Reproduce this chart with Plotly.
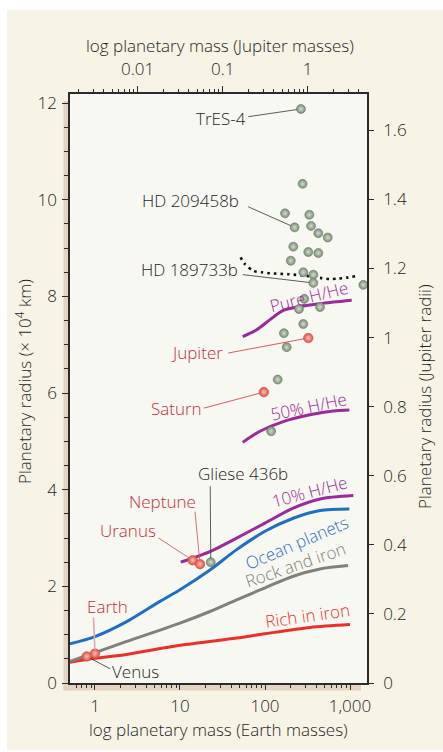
import numpy as np
import plotly.graph_objects as go

# ---------------- constants ----------------
MJ_IN_ME = 317.83        # 1 Jupiter mass in Earth masses
RJ_IN_1E4KM = 7.1492     # 1 Jupiter radius in 10^4 km

# ---------------- data ----------------
# transiting exoplanets (green spheres): mass (Earth masses), radius (10^4 km)
exo_mass = [265, 277, 172, 332, 223, 348, 424, 547, 215, 323, 424, 201, 282, 370,
            370, 1435, 290, 251, 444, 282, 167, 180, 141, 118, 23.0]
exo_radius = [11.88, 10.33, 9.72, 9.69, 9.43, 9.46, 9.31, 9.22, 9.03, 8.92, 8.90, 8.74,
              8.50, 8.45, 8.28, 8.24, 7.95, 7.74, 7.78, 7.43, 7.24, 6.95, 6.28, 5.21, 2.50]
exo_names = ["TrES-4", "", "", "", "HD 209458b", "", "", "", "", "", "", "", "", "",
             "HD 189733b", "", "", "", "", "", "", "", "", "", "Gliese 436b"]

# solar-system planets (red spheres)
sol_names = ["Jupiter", "Saturn", "Uranus", "Neptune", "Earth", "Venus"]
sol_mass = [323, 97, 14.1, 17.2, 1.0, 0.80]
sol_radius = [7.14, 6.02, 2.54, 2.46, 0.61, 0.55]

# model curves
iron_mass = [0.508, 1, 2.36, 10, 46.4, 100, 339, 1000]
iron_r = [0.43, 0.51, 0.59, 0.78, 0.93, 1.02, 1.15, 1.21]

rock_mass = [0.508, 1, 2.36, 10, 22.5, 46.4, 100, 215, 444, 950]
rock_r = [0.45, 0.63, 0.86, 1.24, 1.48, 1.72, 1.97, 2.21, 2.36, 2.43]

ocean_mass = [0.508, 1, 2.36, 5.82, 10, 22.5, 46.4, 100, 215, 444, 982]
ocean_r = [0.81, 0.96, 1.27, 1.69, 1.93, 2.34, 2.76, 3.14, 3.41, 3.57, 3.60]

hhe10_mass = [10.2, 22.5, 46.4, 100, 215, 444, 1094]
hhe10_r = [2.50, 2.72, 3.00, 3.31, 3.62, 3.81, 3.88]

hhe50_mass = [54.7, 87.4, 164, 338, 636, 982]
hhe50_r = [4.98, 5.21, 5.41, 5.55, 5.63, 5.65]

pure_mass = [54.7, 79.8, 114.5, 164, 258, 444, 1047]
pure_r = [7.17, 7.31, 7.52, 7.71, 7.79, 7.85, 7.92]

dot_mass = [51.6, 58.0, 72.9, 91.3, 114, 188, 295, 463, 580, 727, 915, 1170]
dot_r = [8.81, 8.67, 8.53, 8.50, 8.48, 8.46, 8.43, 8.38, 8.36, 8.37, 8.39, 8.42]

# tick labels
x_ticks = [1, 10, 100, 1000]
x_ticktext = ["1", "10", "100", "1,000"]
x2_ticks = [0.01, 0.1, 1]
x2_ticktext = ["0.01", "0.1", "1"]
y_ticks = [0, 2, 4, 6, 8, 10, 12]
y2_ticks = [0, 0.2, 0.4, 0.6, 0.8, 1.0, 1.2, 1.4, 1.6]
y2_ticktext = ["0", "0.2", "0.4", "0.6", "0.8", "1", "1.2", "1.4", "1.6"]

# ---------------- styling ----------------
FONT = "Open Sans"
WEIGHT = 300
DARK = "#1f1f1f"
LABEL_RED = "#bf2f35"
PURPLE = "#9b2a9c"
BLUE = "#1f6fc1"
GRAY = "#80817a"
RED = "#e8312b"
CREAM = "#f7f3e5"
PLOTBG = "#f8f8f2"
TAN = "#e4d4c0"
LBL_SIZE = 17
TICK_SIZE = 17
TITLE_SIZE = 17

XR = [-0.294, 3.2]
YR = [0, 12.19]
L, R_, T, B = 70, 76, 94, 69
W, H = 443, 752
PW, PH = W - L - R_, H - T - B
PPD = PW / (XR[1] - XR[0])     # pixels per decade
PPU = PH / (YR[1] - YR[0])     # pixels per 10^4 km


def px2paper(px, py):
    return (px - L) / PW, (H - B - py) / PH


def fnt(size, color):
    return dict(family=FONT, size=size, color=color, weight=WEIGHT)


fig = go.Figure()

# ---- curves ----
def curve(m, r, color, width=3, dash=None):
    fig.add_trace(go.Scatter(x=m, y=r, mode="lines", line=dict(color=color, width=width,
                             shape="spline", smoothing=0.8, dash=dash),
                             hoverinfo="skip", showlegend=False))

curve(iron_mass, iron_r, RED)
curve(rock_mass, rock_r, GRAY)
curve(ocean_mass, ocean_r, BLUE)
curve(hhe10_mass, hhe10_r, PURPLE)
curve(hhe50_mass, hhe50_r, PURPLE)
curve(pure_mass, pure_r, PURPLE)
curve(dot_mass, dot_r, "#111111", width=2.6, dash="2.6px,4px")

# ---- background shapes ----
cx0, cy0 = px2paper(7, 10)
cx1, cy1 = px2paper(450, 750)
shapes = [
    dict(type="rect", xref="paper", yref="paper", x0=cx0, x1=cx1, y0=cy1, y1=cy0,
         fillcolor=CREAM, line=dict(width=0), layer="below"),
    dict(type="rect", xref="paper", yref="paper", x0=0, x1=1, y0=0, y1=1,
         fillcolor=PLOTBG, line=dict(width=0), layer="below"),
]
tx0, _ = px2paper(63.5, 0)
_, ty0 = px2paper(0, 690.5)
_, ty1 = px2paper(0, 101)
bx1, _ = px2paper(361, 0)
shapes.append(dict(type="rect", xref="paper", yref="paper", x0=tx0, x1=0, y0=ty0, y1=ty1,
                   fillcolor=TAN, line=dict(width=0), layer="below"))
shapes.append(dict(type="rect", xref="paper", yref="paper", x0=tx0, x1=bx1, y0=ty0, y1=0,
                   fillcolor=TAN, line=dict(width=0), layer="below"))

# ---- labels with leader lines ----
# name -> (tail dx, tail dy, text dx, text dy, text color, leader color, leader width) (screen px)
label_layout = {
    "TrES-4":      (-52.7, 7.7, -80, 9.3, DARK, "#4a4a4a", 0.9),
    "HD 209458b":  (-46.4, -20.6, -103.7, -27.3, DARK, "#4a4a4a", 0.9),
    "HD 189733b":  (-70.6, -8.3, -124.3, -13.3, DARK, "#4a4a4a", 0.9),
    "Gliese 436b": (-0.5, -76, 31.8, -89, DARK, "#4a4a4a", 0.9),
    "Jupiter":     (-80, 15, -110.8, 14.2, LABEL_RED, "#d24c4c", 0.9),
    "Saturn":      (-60, 16, -87.7, 16.2, LABEL_RED, "#d24c4c", 0.9),
    "Neptune":     (-5, -52.6, -37.8, -62.6, LABEL_RED, "#d46060", 0.9),
    "Uranus":      (-34.4, -22.4, -64.9, -29.9, LABEL_RED, "#d46060", 0.9),
    "Earth":       (-1.5, -36, 13, -47.3, LABEL_RED, "#e9a6a6", 1.6),
    "Venus":       (23.3, 12.3, 49, 15, DARK, "#4a4a4a", 0.9),
}

points = {}
for n, m, r in zip(exo_names, exo_mass, exo_radius):
    if n:
        points[n] = (m, r)
for n, m, r in zip(sol_names, sol_mass, sol_radius):
    points[n] = (m, r)


def shift(m, r, dx, dy):
    """move a data point by a screen offset (px, y down)"""
    return m * 10 ** (dx / PPD), r - dy / PPU


annotations = []
for name, (tdx, tdy, xdx, xdy, tcol, lcol, lw) in label_layout.items():
    m, r = points[name]
    d = np.hypot(tdx, tdy)
    hx, hy = shift(m, r, tdx / d * 4.0, tdy / d * 4.0)
    tx, ty = shift(m, r, tdx, tdy)
    shapes.append(dict(type="line", xref="x", yref="y", x0=hx, y0=hy, x1=tx, y1=ty,
                       line=dict(color=lcol, width=lw), layer="above"))
    annotations.append(dict(x=np.log10(m), y=r, xref="x", yref="y", text=name, showarrow=False,
                            xshift=xdx, yshift=-xdy, xanchor="center", yanchor="middle",
                            font=fnt(LBL_SIZE, tcol)))

# ---- curve labels ----
curve_labels = [
    ("Pure H/He", 2.521, 7.99, -14, PURPLE),
    ("50% H/He", 2.509, 5.73, -12, PURPLE),
    ("10% H/He", 2.529, 3.96, -15, PURPLE),
    ("Ocean planets", 2.38, 2.90, -23, BLUE),
    ("Rock and iron", 2.361, 2.45, -19, GRAY),
    ("Rich in iron", 2.498, 1.39, -8, RED),
]
for txt, lx, ly, ang, col in curve_labels:
    annotations.append(dict(x=lx, y=ly, xref="x", yref="y", text=txt, showarrow=False,
                            textangle=ang, xanchor="center", yanchor="middle",
                            font=fnt(LBL_SIZE, col)))

# ---- spheres ----
fig.add_trace(go.Scatter(
    x=exo_mass, y=exo_radius, mode="markers", cliponaxis=False,
    marker=dict(size=9, color="#7a8d74", line=dict(color="#6d7f68", width=0.6),
                gradient=dict(type="radial", color="#d3dccf")),
    hoverinfo="skip", showlegend=False))
fig.add_trace(go.Scatter(
    x=sol_mass, y=sol_radius, mode="markers", cliponaxis=False,
    marker=dict(size=9.5, color="#df4f45", line=dict(color="#cf4a42", width=0.6),
                gradient=dict(type="radial", color="#f9c2b6")),
    hoverinfo="skip", showlegend=False))

# ---- axis titles ----
def title(text, px, py, angle=0):
    xp, yp = px2paper(px, py)
    annotations.append(dict(x=xp, y=yp, xref="paper", yref="paper", text=text, showarrow=False,
                            textangle=angle, xanchor="center", yanchor="middle",
                            font=fnt(TITLE_SIZE, DARK)))

title("log planetary mass (Jupiter masses)", 220, 45.7)
title("log planetary mass (Earth masses)", 218, 729.3)
title("Planetary radius (× 10<sup>4</sup> km)", 24, 382, -90)
title("Planetary radius (Jupiter radii)", 424, 396, -90)

# ---- axes ----
x_minor = [k * 10 ** e for e in range(-1, 3) for k in range(2, 10)]
x_minor = [v for v in x_minor if 10 ** XR[0] <= v <= 10 ** XR[1]]
x2r = [XR[0] - np.log10(MJ_IN_ME), XR[1] - np.log10(MJ_IN_ME)]
x2_minor = [k * 10 ** e for e in range(-3, 1) for k in range(2, 10)]
x2_minor = [v for v in x2_minor if 10 ** x2r[0] <= v <= 10 ** x2r[1]]

axis_common = dict(showgrid=False, zeroline=False, showline=True, linecolor="#2b2b2b",
                   linewidth=1.5, ticks="outside", tickcolor="#2b2b2b", tickwidth=1.3,
                   tickfont=fnt(TICK_SIZE, DARK), fixedrange=True)

fig.update_layout(
    width=W, height=H,
    margin=dict(l=L, r=R_, t=T, b=B),
    paper_bgcolor="white", plot_bgcolor=PLOTBG,
    showlegend=False, hovermode=False,
    font=dict(family=FONT, color=DARK),
    xaxis=dict(type="log", range=XR, tickmode="array", tickvals=x_ticks, ticktext=x_ticktext,
               ticklen=5, ticklabelstandoff=2,
               minor=dict(tickmode="array", tickvals=x_minor, ticks="outside", ticklen=3.5,
                          tickcolor="#2b2b2b", tickwidth=1.1),
               **axis_common),
    xaxis2=dict(type="log", range=x2r, overlaying="x", side="top", anchor="y",
                tickmode="array", tickvals=x2_ticks, ticktext=x2_ticktext, ticklen=6.5,
                ticklabelstandoff=4,
                minor=dict(tickmode="array", tickvals=x2_minor, ticks="outside", ticklen=3.5,
                           tickcolor="#2b2b2b", tickwidth=1.1),
                **axis_common),
    yaxis=dict(range=YR, tickmode="array", tickvals=y_ticks, ticklen=6, ticklabelstandoff=2,
               minor=dict(dtick=0.5, ticks="outside", ticklen=4.3, tickcolor="#2b2b2b",
                          tickwidth=1.1),
               **axis_common),
    yaxis2=dict(range=[YR[0] / RJ_IN_1E4KM, YR[1] / RJ_IN_1E4KM], overlaying="y", side="right",
                anchor="x", tickmode="array", tickvals=y2_ticks, ticktext=y2_ticktext,
                ticklen=5, ticklabelstandoff=6, **axis_common),
    shapes=shapes,
    annotations=annotations,
)

# invisible trace binding the secondary axes
fig.add_trace(go.Scatter(x=[1], y=[0], xaxis="x2", yaxis="y2", mode="markers",
                         marker=dict(opacity=0), hoverinfo="skip", showlegend=False))

fig.write_html("out.html", config={"displayModeBar": False},
               post_script="document.body.style.margin='0';document.body.style.overflow='hidden';")
